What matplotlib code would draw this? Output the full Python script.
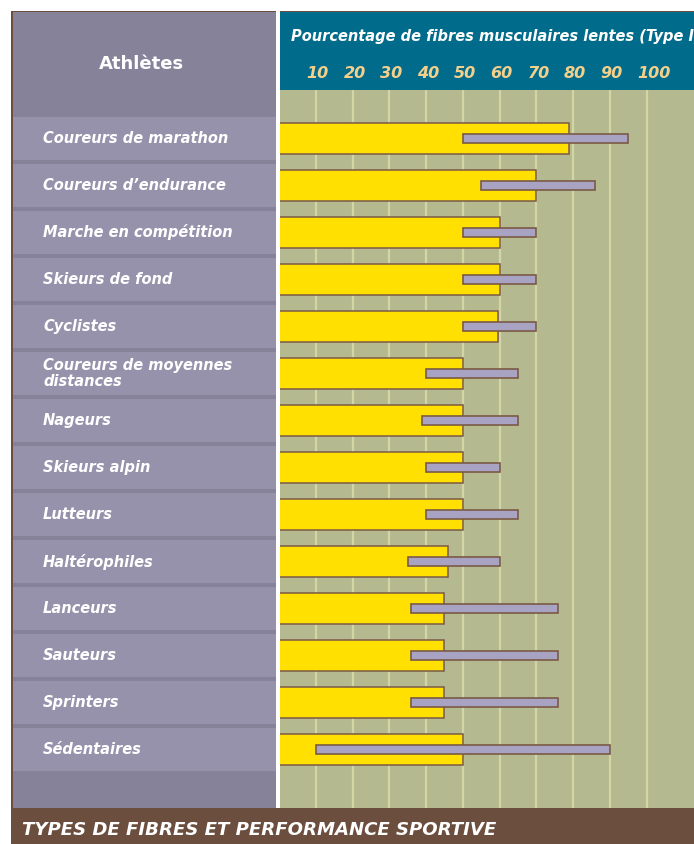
import matplotlib
matplotlib.use("Agg")
import matplotlib.pyplot as plt
from matplotlib.patches import Rectangle

# data
athletes = ["Coureurs de marathon", "Coureurs d\u2019endurance", "Marche en compétition",
            "Skieurs de fond", "Cyclistes", "Coureurs de moyennes\ndistances", "Nageurs",
            "Skieurs alpin", "Lutteurs", "Haltérophiles", "Lanceurs", "Sauteurs",
            "Sprinters", "Sédentaires"]
moyenne = [79, 70, 60, 60, 59.5, 50, 50, 50, 50, 46, 45, 45, 45, 50]
mini = [50, 55, 50, 50, 50, 40, 39, 40, 40, 35, 36, 36, 36, 10]
maxi = [95, 86, 70, 70, 70, 65, 65, 60, 65, 60, 76, 76, 76, 90]
ticks = [10, 20, 30, 40, 50, 60, 70, 80, 90, 100]

titre_axe = "Pourcentage de fibres musculaires lentes (Type I)"
titre = "TYPES DE FIBRES ET PERFORMANCE SPORTIVE"

# colours
brun = "#6B4E3E"
bleu = "#006B8A"
olive = "#B4B98F"
jaune = "#FFE000"
mauve = "#A8A3C2"
gris_fonce = "#85829A"
gris_clair = "#9692AC"

W, H = 694, 844
fig = plt.figure(figsize=(W / 100, H / 100), dpi=100)
fig.patch.set_facecolor("white")


def px_axes(x0, y0, x1, y1):
    # axes placed in pixel coords, measured from the top left
    return fig.add_axes([x0 / W, 1 - y1 / H, (x1 - x0) / W, (y1 - y0) / H])


def px_rect(x0, y0, x1, y1, color):
    fig.add_artist(Rectangle((x0 / W, 1 - y1 / H), (x1 - x0) / W, (y1 - y0) / H,
                             transform=fig.transFigure, facecolor=color,
                             edgecolor="none", zorder=0))


# row geometry in pixels
row0 = 138.5
row_px = 47.0


def ylim_px(top, bot):
    return ((bot - row0) / row_px, (top - row0) / row_px)


rows = list(range(len(athletes)))

# brown frame, white separator
px_rect(11, 10.5, 700, 850, brun)
px_rect(276, 11, 280, 808, "white")

# left panel
axl = px_axes(13, 12, 276, 808)
axl.set_facecolor(gris_fonce)
axl.set_xlim(0, 1)
axl.set_ylim(*ylim_px(12, 808))
axl.barh(rows, 1, height=43 / row_px, color=gris_clair, edgecolor="none")
for i, name in enumerate(athletes):
    axl.text(30 / 263, i, name, ha="left", va="center", color="white",
             fontsize=10.5, fontweight="bold", fontstyle="italic", linespacing=1.1)
axl.text(0.49, 1 - (64 - 12) / 796, "Athlètes", ha="center", va="center",
         color="white", fontsize=13, fontweight="bold", transform=axl.transAxes)
for s in axl.spines.values():
    s.set_visible(False)
axl.set_xticks([])
axl.set_yticks([])

# plot area
xmax = (694 - 279) / 3.676
ax = px_axes(280, 90, 694, 808)
ax.set_facecolor(olive)
ax.set_xlim((280 - 279) / 3.676, xmax)
ax.set_ylim(*ylim_px(90, 808))
ax.set_xticks(ticks)
ax.set_yticks([])
ax.tick_params(length=0, labelbottom=False)
ax.grid(axis="x", color="#D3D5A5", linewidth=1.6)
ax.set_axisbelow(True)
for s in ax.spines.values():
    s.set_visible(False)
ax.barh(rows, moyenne, height=31 / row_px, color=jaune, edgecolor="#7A5A45", linewidth=1.1, zorder=2)
ax.barh(rows, [b - a for a, b in zip(mini, maxi)], left=mini, height=9.5 / row_px,
        color=mauve, edgecolor="#7A5A45", linewidth=1.2, zorder=3)

# header
axh = px_axes(280, 12, 694, 90)
axh.set_facecolor(bleu)
axh.set_xlim((280 - 279) / 3.676, xmax)
axh.set_ylim(0, 1)
axh.set_xticks([])
axh.set_yticks([])
for s in axh.spines.values():
    s.set_visible(False)
axh.text(11 / 414, 1 - (36 - 12) / 78, titre_axe, ha="left", va="center", color="white",
         fontsize=10.5, fontweight="bold", fontstyle="italic", transform=axh.transAxes)
for v in ticks:
    axh.annotate(str(v), xy=(v, 0), xycoords=("data", "axes fraction"),
                 xytext=(-9, 17), textcoords="offset pixels", ha="left", va="center",
                 color="#F3D08C", fontsize=11.5, fontweight="bold", fontstyle="italic")

# bottom title
fig.text(22 / W, 1 - 830 / H, titre, ha="left", va="center", color="white",
         fontsize=13.1, fontweight="bold", fontstyle="italic")

fig.savefig("out.png", dpi=100, facecolor=fig.get_facecolor())
